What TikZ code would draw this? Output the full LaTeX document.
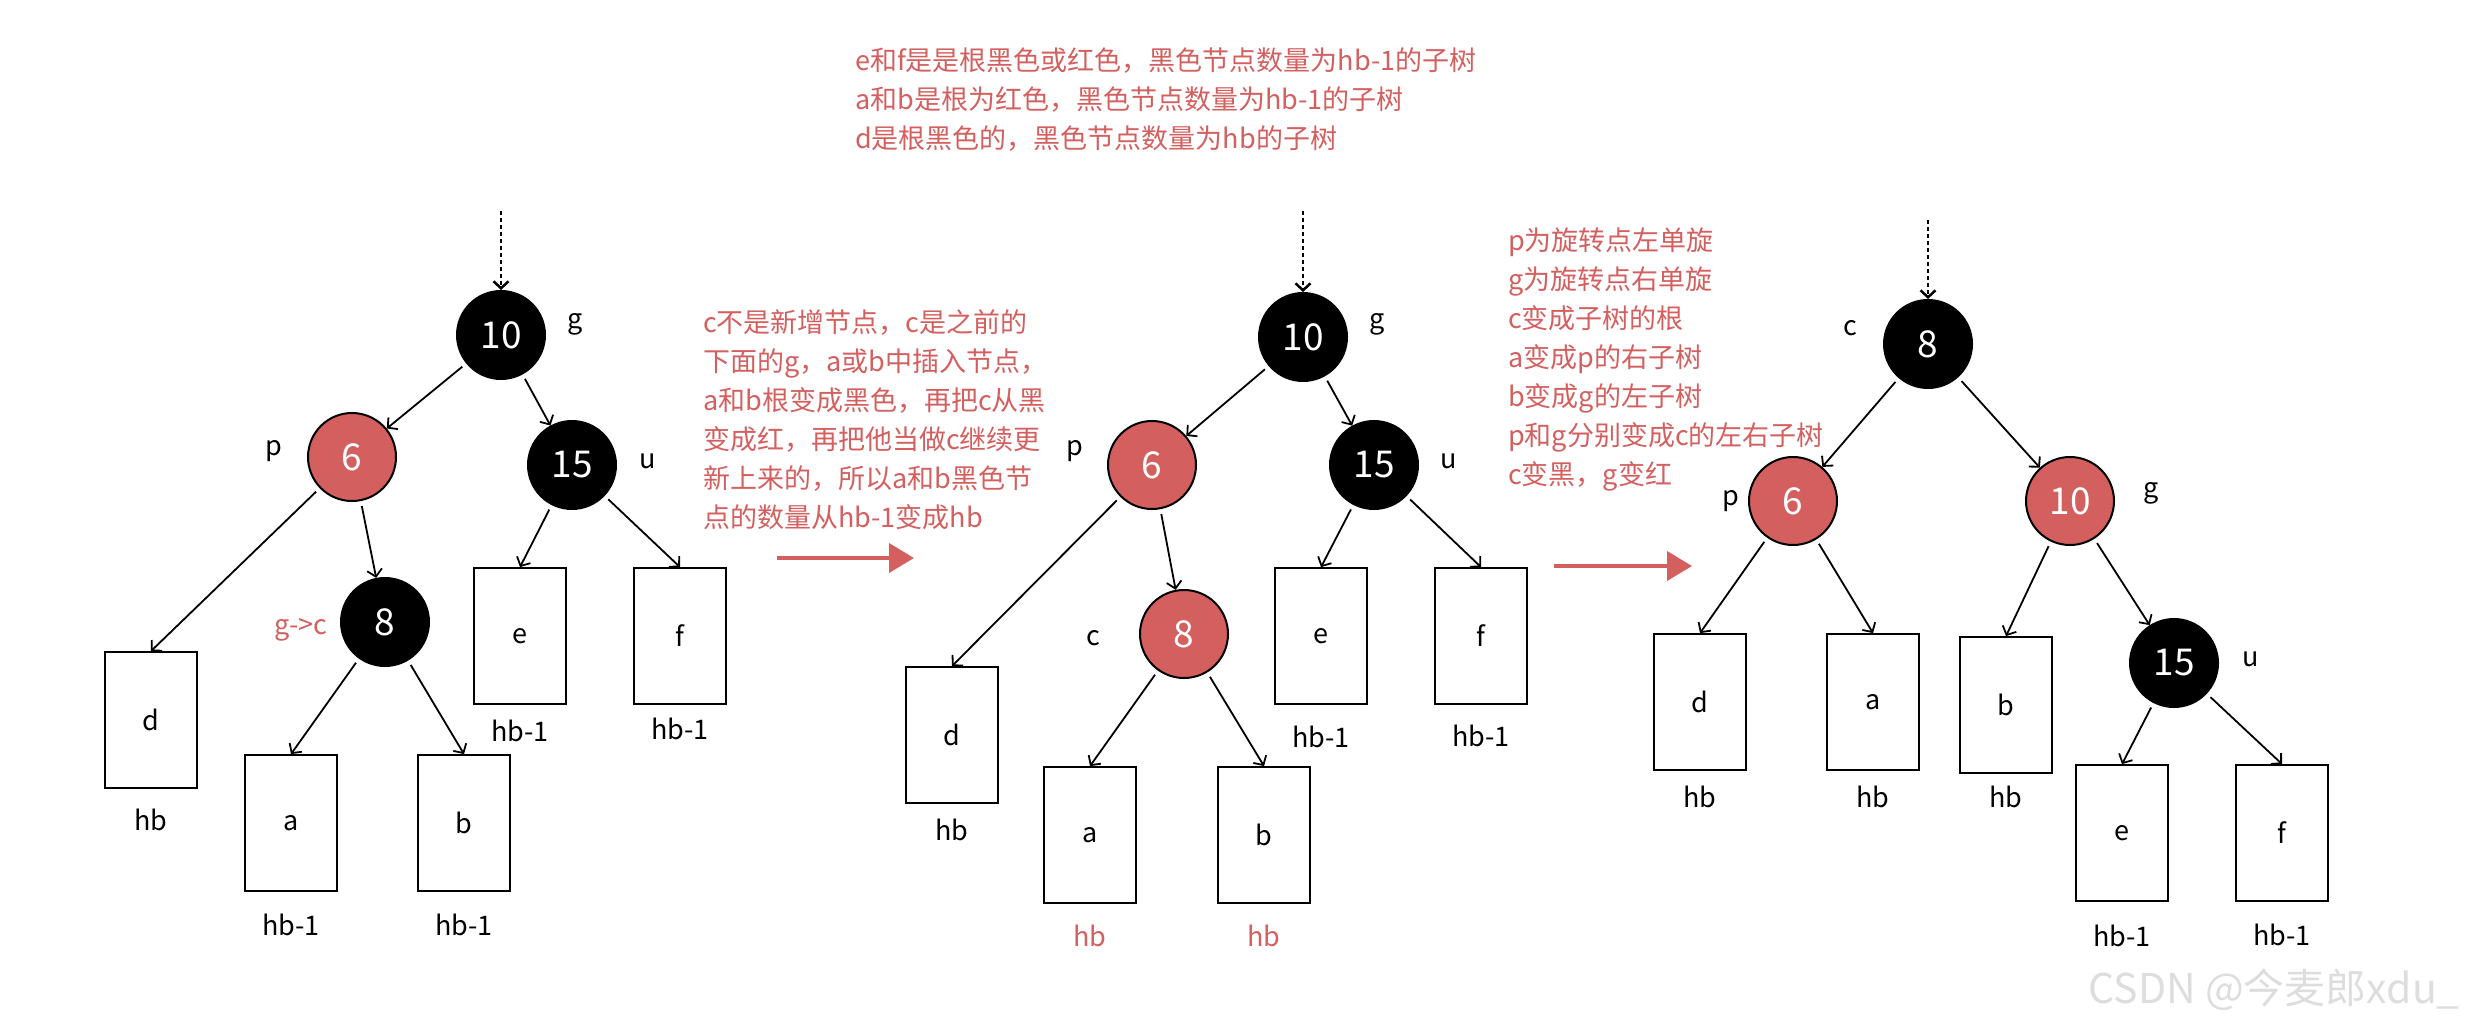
\documentclass[tikz,border=0pt]{standalone}
\usepackage{fontspec}
\setmainfont{Noto Sans CJK SC}
\usetikzlibrary{positioning, arrows.meta}
\definecolor{RB_Red}{HTML}{D35F5F}
\definecolor{RB_Mark}{HTML}{DDDDDD}

\begin{document}
\begin{tikzpicture}[
  x=1pt, y=-1pt, every node/.style={font=\fontsize{27}{39}\selectfont},
  bnode/.style={circle, draw, line width=2pt, fill=black, text=white, minimum size=88pt,
    inner sep=0pt, font=\fontsize{37}{40}\selectfont},
  rnode/.style={bnode, fill=RB_Red},
  sub/.style={draw, line width=1.8pt, minimum width=92pt, minimum height=136pt, inner sep=0pt},
  tag/.style={inner sep=0pt},
  note/.style={text=RB_Red, align=left, anchor=west, inner sep=0pt},
  arr/.style={-{Straight Barb[length=7pt,width=15pt]}, line width=1.8pt, shorten <=5pt},
  darr/.style={-{Straight Barb[length=7pt,width=15pt]}, line width=2.5pt, dash pattern=on 4pt off 3pt},
  bigarr/.style={-{Triangle[length=25pt,width=29pt]}, line width=4pt, RB_Red}
]
  \useasboundingbox (0,0) rectangle (2465,1020);

  % Notes
  \node[note] (nsub) at (855,100)
    {e和f是是根黑色或红色，黑色节点数量为hb-1的子树\\a和b是根为红色，黑色节点数量为hb-1的子树\\d是根黑色的，黑色节点数量为hb的子树};
  \node[note] (nflip) at (703,420)
    {c不是新增节点，c是之前的\\下面的g，a或b中插入节点，\\a和b根变成黑色，再把c从黑\\变成红，再把他当做c继续更\\新上来的，所以a和b黑色节\\点的数量从hb-1变成hb};
  \node[note] (nrot) at (1508,360)
    {p为旋转点左单旋\\g为旋转点右单旋\\c变成子树的根\\a变成p的右子树\\b变成g的左子树\\p和g分别变成c的左右子树\\c变黑，g变红};

  % Tree 1: before recolouring
  \node[bnode] (g1) at (501,335) {10};
  \node[rnode] (p1) at (352,457) {6};
  \node[bnode] (u1) at (572,465) {15};
  \node[bnode] (c1) at (385,622) {8};
  \node[tag] at ([xshift=74pt, yshift=11pt]g1.center) {g};
  \node[tag] at ([xshift=-78pt, yshift=6pt]p1.center) {p};
  \node[tag] at ([xshift=76pt, yshift=4pt]u1.center) {u};
  \node[tag, text=RB_Red] at ([xshift=-84pt, yshift=-8pt]c1.center) {g->c};
  \node[sub] (d1) at (151,720) {d};
  \node[sub] (a1) at (291,823) {a};
  \node[sub] (b1) at (464,823) {b};
  \node[sub] (e1) at (520,636) {e};
  \node[sub] (f1) at (680,636) {f};
  \node[tag] at ([yshift=-31pt]d1.south) {hb};
  \node[tag] at ([yshift=-33pt]a1.south) {hb-1};
  \node[tag] at ([yshift=-33pt]b1.south) {hb-1};
  \node[tag] at ([yshift=-26pt]e1.south) {hb-1};
  \node[tag] at ([yshift=-24pt]f1.south) {hb-1};
  \coordinate (t1) at (501,211);
  \draw[darr] (t1) -- (g1);
  \draw[arr] (g1) -- (p1);
  \draw[arr] (g1) -- (u1);
  \draw[arr] (p1) -- (d1.north);
  \draw[arr] (p1) -- (c1);
  \draw[arr] (u1) -- (e1.north);
  \draw[arr] (u1) -- (f1.north);
  \draw[arr] (c1) -- (a1.north);
  \draw[arr] (c1) -- (b1.north);

  % Step arrow 1
  \coordinate (s1) at (777,558);
  \coordinate (s1e) at (914,558);
  \draw[bigarr] (s1) -- (s1e);

  % Tree 2: after recolouring
  \node[bnode] (g2) at (1303,337) {10};
  \node[rnode] (p2) at (1152,465) {6};
  \node[bnode] (u2) at (1374,465) {15};
  \node[rnode] (c2) at (1184,634) {8};
  \node[tag] at ([xshift=74pt, yshift=13pt]g2.center) {g};
  \node[tag] at ([xshift=-77pt, yshift=14pt]p2.center) {p};
  \node[tag] at ([xshift=75pt, yshift=4pt]u2.center) {u};
  \node[tag] at ([xshift=-91pt, yshift=-4pt]c2.center) {c};
  \node[sub] (d2) at (952,735) {d};
  \node[sub] (a2) at (1090,835) {a};
  \node[sub] (b2) at (1264,835) {b};
  \node[sub] (e2) at (1321,636) {e};
  \node[sub] (f2) at (1481,636) {f};
  \node[tag] at ([yshift=-26pt]d2.south) {hb};
  \node[tag, text=RB_Red] at ([yshift=-32pt]a2.south) {hb};
  \node[tag, text=RB_Red] at ([yshift=-32pt]b2.south) {hb};
  \node[tag] at ([yshift=-32pt]e2.south) {hb-1};
  \node[tag] at ([yshift=-31pt]f2.south) {hb-1};
  \coordinate (t2) at (1303,211);
  \draw[darr] (t2) -- (g2);
  \draw[arr] (g2) -- (p2);
  \draw[arr] (g2) -- (u2);
  \draw[arr] (p2) -- (d2.north);
  \draw[arr] (p2) -- (c2);
  \draw[arr] (u2) -- (e2.north);
  \draw[arr] (u2) -- (f2.north);
  \draw[arr] (c2) -- (a2.north);
  \draw[arr] (c2) -- (b2.north);

  % Step arrow 2
  \coordinate (s2) at (1554,566);
  \coordinate (s2e) at (1692,566);
  \draw[bigarr] (s2) -- (s2e);

  % Tree 3: after double rotation
  \node[bnode] (c3) at (1928,344) {8};
  \node[rnode] (p3) at (1793,501) {6};
  \node[rnode] (g3) at (2070,501) {10};
  \node[bnode] (u3) at (2174,663) {15};
  \node[tag] at ([xshift=-78pt, yshift=16pt]c3.center) {c};
  \node[tag] at ([xshift=-62pt, yshift=0pt]p3.center) {p};
  \node[tag] at ([xshift=81pt, yshift=8pt]g3.center) {g};
  \node[tag] at ([xshift=77pt, yshift=4pt]u3.center) {u};
  \node[sub] (d3) at (1700,702) {d};
  \node[sub] (a3) at (1873,702) {a};
  \node[sub] (b3) at (2006,705) {b};
  \node[sub] (e3) at (2122,833) {e};
  \node[sub] (f3) at (2282,833) {f};
  \node[tag] at ([yshift=-26pt]d3.south) {hb};
  \node[tag] at ([yshift=-26pt]a3.south) {hb};
  \node[tag] at ([yshift=-23pt]b3.south) {hb};
  \node[tag] at ([yshift=-34pt]e3.south) {hb-1};
  \node[tag] at ([yshift=-33pt]f3.south) {hb-1};
  \coordinate (t3) at (1928,220);
  \draw[darr] (t3) -- (c3);
  \draw[arr] (c3) -- (p3);
  \draw[arr] (c3) -- (g3);
  \draw[arr] (p3) -- (d3.north);
  \draw[arr] (p3) -- (a3.north);
  \draw[arr] (g3) -- (b3.north);
  \draw[arr] (g3) -- (u3);
  \draw[arr] (u3) -- (e3.north);
  \draw[arr] (u3) -- (f3.north);

  % Watermark
  \node[tag, anchor=east, text=RB_Mark, font=\fontsize{41}{44}\selectfont] (wm) at (2460,990)
    {CSDN @今麦郎xdu\_};
\end{tikzpicture}
\end{document}
